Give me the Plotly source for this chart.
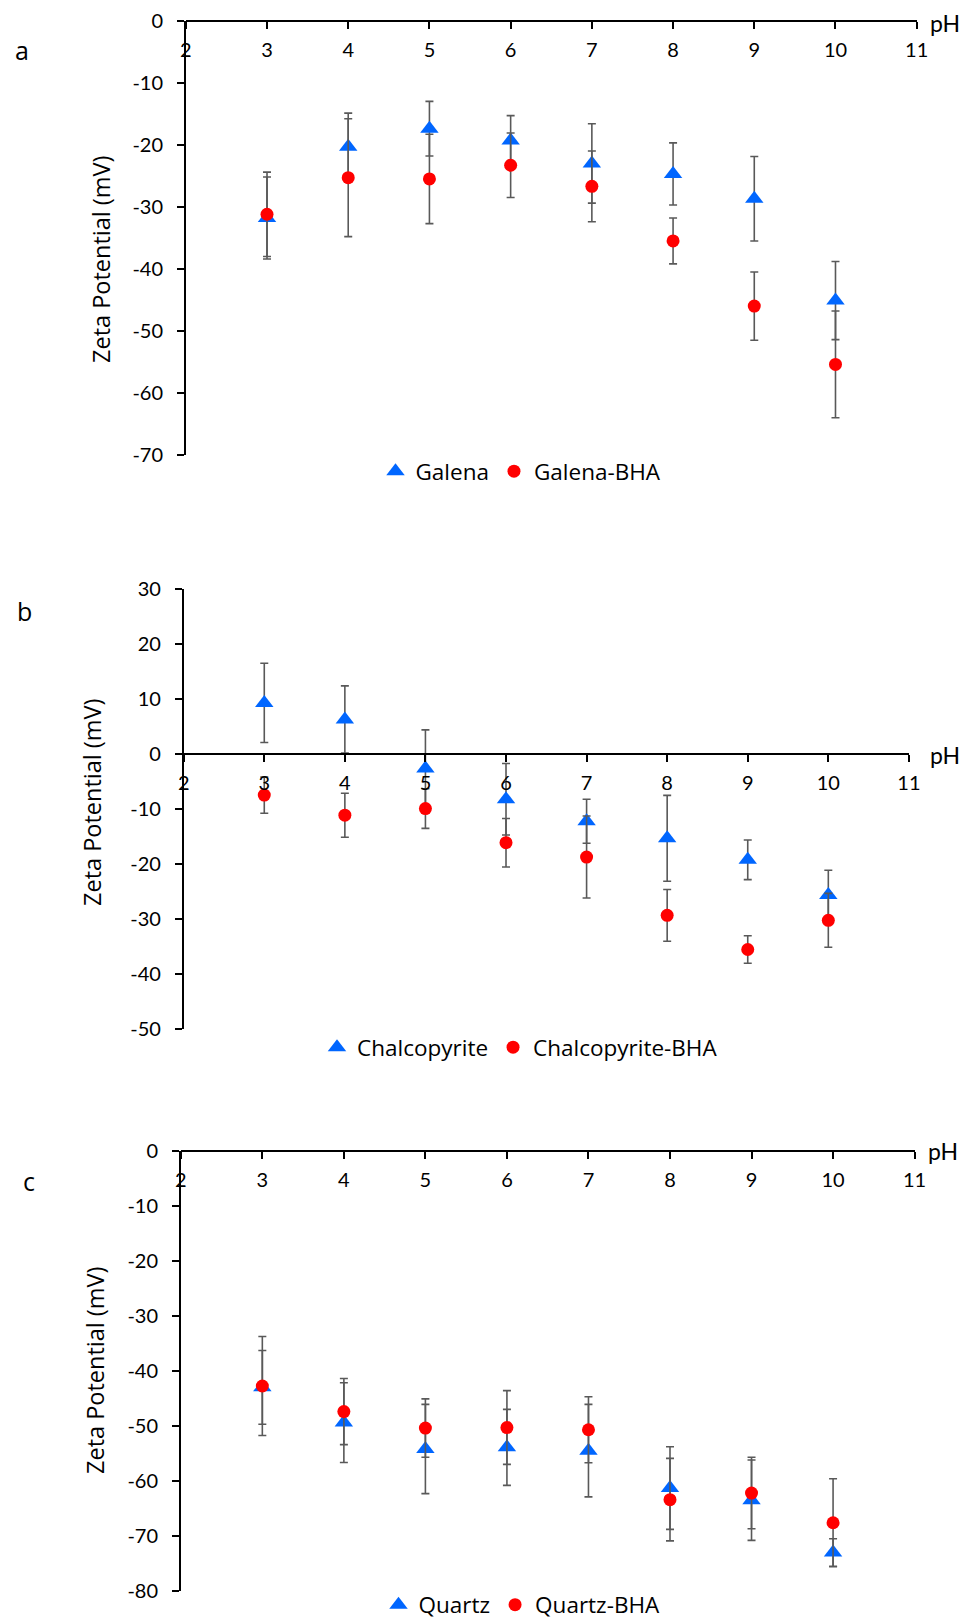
import plotly.graph_objects as go

# ---------------- data ----------------
ph = [3, 4, 5, 6, 7, 8, 9, 10]

galena = [-31.8, -20.3, -17.4, -19.3, -23.0, -24.7, -28.7, -45.1]
galena_err = [6.6, 5.4, 4.4, 4.0, 6.4, 5.0, 6.8, 6.3]
galena_bha = [-31.2, -25.3, -25.5, -23.3, -26.7, -35.5, -46.0, -55.4]
galena_bha_err = [6.8, 9.5, 7.2, 5.2, 5.7, 3.7, 5.5, 8.6]

chalco = [9.3, 6.3, -2.6, -8.2, -12.2, -15.3, -19.2, -25.6]
chalco_err = [7.2, 6.1, 7.0, 6.5, 4.0, 7.8, 3.6, 4.5]
chalco_bha = [-7.45, -11.1, -9.9, -16.1, -18.7, -29.3, -35.5, -30.2]
chalco_bha_err = [3.3, 4.0, 3.6, 4.4, 7.45, 4.7, 2.5, 4.9]

quartz = [-43.0, -49.4, -54.2, -53.9, -54.5, -61.3, -63.5, -73.0]
quartz_err = [6.7, 7.25, 8.1, 6.9, 8.4, 7.5, 7.3, 2.5]
quartz_bha = [-42.75, -47.4, -50.4, -50.3, -50.7, -63.4, -62.2, -67.6]
quartz_bha_err = [9.0, 6.0, 5.3, 6.7, 6.0, 7.5, 6.5, 8.0]

x_ticks = [2, 3, 4, 5, 6, 7, 8, 9, 10, 11]
y_ticks_a = [0, -10, -20, -30, -40, -50, -60, -70]
y_ticks_b = [30, 20, 10, 0, -10, -20, -30, -40, -50]
y_ticks_c = [0, -10, -20, -30, -40, -50, -60, -70, -80]
panel_letters = ["a", "b", "c"]
y_title = "Zeta Potential (mV)"

# ---------------- layout constants ----------------
W, H = 968, 1620
BLUE = "#0066FF"
RED = "#FF0000"
ERR = "#595959"
TICK_FONT = dict(family="Lato, sans-serif", size=20, color="black")

# pixel boxes of each plot area (left, right, top, bottom) and y ranges
panels = [
    dict(box=(185.8, 916.7, 20.7, 455.0), yr=(-70, 0), yt=y_ticks_a,
         s1=("Galena", galena, galena_err), s2=("Galena-BHA", galena_bha, galena_bha_err),
         legend_xy=(521, 471.5), title_xy=(101, 260), letter_xy=(22, 50), ph_xy=(945, 23)),
    dict(box=(183.7, 908.9, 589.0, 1029.3), yr=(-50, 30), yt=y_ticks_b,
         s1=("Chalcopyrite", chalco, chalco_err), s2=("Chalcopyrite-BHA", chalco_bha, chalco_bha_err),
         legend_xy=(520, 1047.5), title_xy=(92, 803), letter_xy=(24, 611), ph_xy=(945, 755)),
    dict(box=(180.8, 914.6, 1150.7, 1591.0), yr=(-80, 0), yt=y_ticks_c,
         s1=("Quartz", quartz, quartz_err), s2=("Quartz-BHA", quartz_bha, quartz_bha_err),
         legend_xy=(522, 1605), title_xy=(95, 1371), letter_xy=(29, 1181), ph_xy=(943, 1151)),
]

fig = go.Figure()
annotations = []
layout_axes = {}

for i, p in enumerate(panels):
    n = i + 1
    xa = "x" if n == 1 else f"x{n}"
    ya = "y" if n == 1 else f"y{n}"
    lg = "legend" if n == 1 else f"legend{n}"
    l, r, t, b = p["box"]
    ydom = [1 - b / H, 1 - t / H]
    ymin, ymax = p["yr"]
    # paper position of y = 0 (where the pH axis crosses)
    zero_pos = ydom[0] + (0 - ymin) / (ymax - ymin) * (ydom[1] - ydom[0])

    name1, v1, e1 = p["s1"]
    name2, v2, e2 = p["s2"]
    fig.add_trace(go.Scatter(
        x=ph, y=v1, mode="markers", name=name1, xaxis=xa, yaxis=ya, legend=lg,
        marker=dict(symbol="triangle-up", size=16, color=BLUE),
        error_y=dict(type="data", array=e1, color=ERR, thickness=1.6, width=4),
        cliponaxis=False))
    fig.add_trace(go.Scatter(
        x=ph, y=v2, mode="markers", name=name2, xaxis=xa, yaxis=ya, legend=lg,
        marker=dict(symbol="circle", size=13, color=RED),
        error_y=dict(type="data", array=e2, color=ERR, thickness=1.6, width=4),
        cliponaxis=False))

    xkey = "xaxis" if n == 1 else f"xaxis{n}"
    ykey = "yaxis" if n == 1 else f"yaxis{n}"
    layout_axes[xkey] = dict(
        domain=[l / W, r / W], range=[2, 11], anchor="free", position=zero_pos,
        side="bottom", tickmode="array", tickvals=x_ticks,
        ticktext=[str(v) for v in x_ticks],
        ticks="outside", ticklen=7, tickwidth=1.5, tickcolor="black",
        showline=True, linecolor="black", linewidth=1.8,
        showgrid=False, zeroline=False, tickfont=TICK_FONT,
        ticklabelstandoff=4, ticklabeloverflow="allow", automargin=False)
    layout_axes[ykey] = dict(
        domain=ydom, range=[ymin, ymax], anchor=xa, tickmode="array",
        tickvals=p["yt"], ticktext=[str(v) for v in p["yt"]],
        ticks="outside", ticklen=7, tickwidth=1.5, tickcolor="black",
        showline=True, linecolor="black", linewidth=1.5,
        showgrid=False, zeroline=False, tickfont=TICK_FONT,
        ticklabelstandoff=10, automargin=False)
    lx, ly = p["legend_xy"]
    layout_axes[lg] = dict(
        orientation="h", x=lx / W, y=1 - ly / H, xanchor="center", yanchor="middle",
        bgcolor="rgba(0,0,0,0)", font=dict(family="Open Sans, sans-serif", size=22.5, color="black"),
        itemwidth=30, tracegroupgap=0)

    tx, ty = p["title_xy"]
    annotations.append(dict(
        text=y_title, x=tx / W, y=1 - ty / H, xref="paper", yref="paper",
        textangle=-90, showarrow=False, xanchor="center", yanchor="middle",
        font=dict(family="Open Sans, sans-serif", size=23.5, color="black")))
    cx, cy = p["letter_xy"]
    annotations.append(dict(
        text=panel_letters[i], x=cx / W, y=1 - cy / H, xref="paper", yref="paper",
        showarrow=False, xanchor="center", yanchor="middle",
        font=dict(family="Open Sans, sans-serif", size=25, color="black")))
    hx, hy = p["ph_xy"]
    annotations.append(dict(
        text="pH", x=hx / W, y=1 - hy / H, xref="paper", yref="paper",
        showarrow=False, xanchor="center", yanchor="middle",
        font=dict(family="Lato, sans-serif", size=23, color="black")))

fig.update_layout(
    width=W, height=H, margin=dict(l=0, r=0, t=0, b=0, pad=0, autoexpand=False),
    paper_bgcolor="white", plot_bgcolor="white",
    showlegend=True, annotations=annotations, **layout_axes)

fig.write_html("out.html", post_script="document.body.style.margin='0';",
               config={"displayModeBar": False})
